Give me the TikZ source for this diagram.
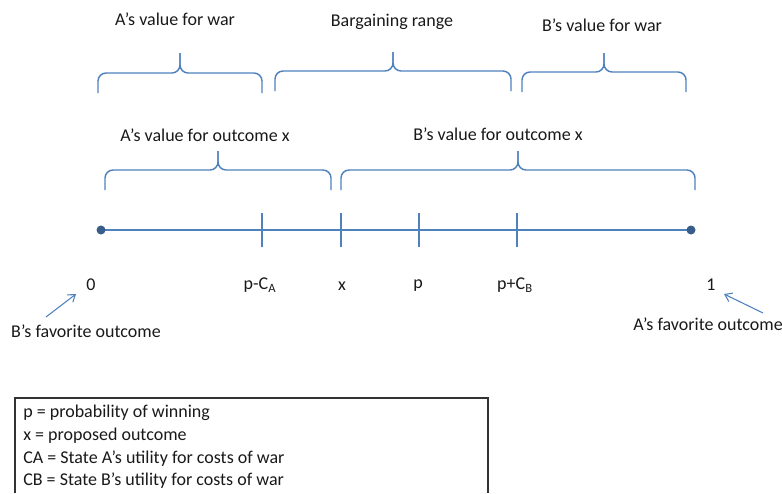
\documentclass[tikz,border=0pt]{standalone}
\usepackage{fontspec}
\setmainfont{Carlito}
\usetikzlibrary{arrows.meta}
\definecolor{obl}{HTML}{4F81BD}
\definecolor{odot}{HTML}{385D8A}
\tikzset{
  lbl/.style={font=\fontsize{13.5}{16}\selectfont, inner sep=0pt, text=black!90},
  axisline/.style={draw=obl, line width=1.1pt},
  tickline/.style={draw=obl, line width=1.1pt},
  bracepath/.style={draw=obl, line width=1.1pt, rounded corners=6},
  pointer/.style={draw=obl, line width=0.8pt, -{Straight Barb[length=5pt,width=7pt]}},
  legendline/.style={lbl, anchor=west}
}
\begin{document}
\begin{tikzpicture}[x=0.75pt,y=-0.75pt]
\useasboundingbox (0,0) rectangle (782,493);
% axis
\coordinate (L) at (101,230);
\coordinate (R) at (691,230);
\draw[axisline] (L) -- (R);
\fill[odot] (L) circle (4.5);
\fill[odot] (R) circle (4.5);
% ticks
\foreach \nm/\xx in {tA/262, tX/341, tP/419, tB/517}{
  \coordinate (\nm) at (\xx,230);
  \draw[tickline] ([yshift=-13] \nm) -- ([yshift=13] \nm);
}
% top braces
\draw[bracepath] (98,93) -- (98,73) -- (180,73) -- (180,53);
\draw[bracepath] (262,93) -- (262,73) -- (180,73) -- (180,53);
\draw[bracepath] (275,91) -- (275,71) -- (393,71) -- (393,52);
\draw[bracepath] (511,91) -- (511,71) -- (393,71) -- (393,52);
\draw[bracepath] (522,92) -- (522,72) -- (604,72) -- (604,53);
\draw[bracepath] (686,92) -- (686,72) -- (604,72) -- (604,53);
% outcome braces
\draw[bracepath] (105,190) -- (105,170) -- (218,170) -- (218,151);
\draw[bracepath] (331,190) -- (331,170) -- (218,170) -- (218,151);
\draw[bracepath] (341,190) -- (341,170) -- (518,170) -- (518,151);
\draw[bracepath] (695,190) -- (695,170) -- (518,170) -- (518,151);
% labels
\node[lbl] (awar) at (175,19) {A’s value for war};
\node[lbl] (barg) at (392,22) {Bargaining range};
\node[lbl] (bwar) at (602,25) {B’s value for war};
\node[lbl] (aout) at (205,135) {A’s value for outcome x};
\node[lbl] (bout) at (498,134) {B’s value for outcome x};
% axis labels
\node[lbl] (n0) at (91,285) {0};
\node[lbl] (npa) at (260,285) {p-C\textsubscript{A}};
\node[lbl] (nx) at (342,286) {x};
\node[lbl] (np) at (418,286) {p};
\node[lbl] (npb) at (515,285) {p+C\textsubscript{B}};
\node[lbl] (n1) at (711,285) {1};
% favorite outcomes
\node[lbl] (bfav) at (86,331) {B’s favorite outcome};
\node[lbl] (afav) at (708,324) {A’s favorite outcome};
\coordinate (bfT) at (46,317);
\coordinate (bfH) at (76,294);
\coordinate (afT) at (763,313);
\coordinate (afH) at (724,294);
\draw[pointer] (bfT) -- (bfH);
\draw[pointer] (afT) -- (afH);
% legend box
\coordinate (bx1) at (15,493);
\coordinate (bx2) at (15,398);
\coordinate (bx3) at (488,398);
\coordinate (bx4) at (488,493);
\draw[black!80, line width=0.8pt] (bx1) -- (bx2) -- (bx3) -- (bx4);
\node[legendline] (l1) at (23,413) {p = probability of winning};
\node[legendline] (l2) at (23,436) {x = proposed outcome};
\node[legendline] (l3) at (23,459) {CA = State A’s utility for costs of war};
\node[legendline] (l4) at (23,481) {CB = State B’s utility for costs of war};
\end{tikzpicture}
\end{document}
